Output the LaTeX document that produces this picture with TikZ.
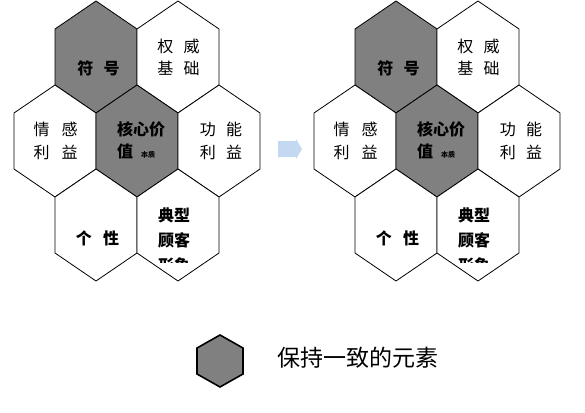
\documentclass[tikz,border=0pt]{standalone}
\usepackage{fontspec}
\newfontfamily\cjk{Noto Sans CJK SC}
\definecolor{hexgray}{RGB}{128,128,128}
\definecolor{arrowblue}{RGB}{196,216,242}
\tikzset{
  hexline/.style={draw=black,line width=0.8pt,line join=miter},
  lbl/.style={font=\cjk\fontsize{16}{16}\selectfont,inner sep=0pt,anchor=center},
  lblb/.style={font=\cjk\bfseries\fontsize{16}{16}\selectfont,inner sep=0pt,anchor=center},
}
\newcommand\hexagon[3]{%
  \filldraw[hexline,fill=#3] (#1,#2-56) -- ++(41,28) -- ++(0,56) -- ++(-41,28)
    -- ++(-41,-28) -- ++(0,-56) -- cycle;}
\newcommand\hexdiagram[2]{%
  \begin{scope}[xshift=#2]
    \hexagon{96}{57}{hexgray}
    \hexagon{178}{57}{white}
    \hexagon{55}{141}{white}
    \hexagon{137}{141}{hexgray}
    \hexagon{219}{141}{white}
    \hexagon{96}{225}{white}
    \hexagon{178}{225}{white}
    \node[lblb] (#1-fh) at (98.5,68) {符\hspace{0.65em}号};
    \node[lbl] (#1-qw1) at (178.5,46) {权\hspace{0.65em}威};
    \node[lbl] (#1-qw2) at (178.5,68) {基\hspace{0.65em}础};
    \node[lbl] (#1-qg1) at (55.5,129) {情\hspace{0.75em}感};
    \node[lbl] (#1-qg2) at (55.5,152) {利\hspace{0.75em}益};
    \node[lbl] (#1-gn1) at (221,129) {功\hspace{0.65em}能};
    \node[lbl] (#1-gn2) at (221,152) {利\hspace{0.65em}益};
    \node[lblb] (#1-hx1) at (141,129) {核心价};
    \node[lblb,anchor=west] (#1-hx2) at (117,151) {值};
    \node[font=\cjk\bfseries\fontsize{7}{7}\selectfont,inner sep=0pt,anchor=west] (#1-bz) at (141,155) {本质};
    \node[lblb] (#1-gx) at (97.5,238) {个\hspace{0.7em}性};
    \begin{scope}
      \clip (140,200) rectangle (215,262);
      \node[lblb] (#1-dx1) at (174,215) {典型};
      \node[lblb] (#1-dx2) at (174,240) {顾客};
      \node[lblb] (#1-dx3) at (174,265) {形象};
    \end{scope}
  \end{scope}}
\begin{document}
\begin{tikzpicture}[x=1pt,y=-1pt]
  \useasboundingbox (0,0) rectangle (585,412);
  \fill[white] (0,0) rectangle (585,412);
  \hexdiagram{L}{0pt}
  \hexdiagram{R}{300pt}
  \fill[arrowblue] (278,141) -- (296,141) -- (296,139) -- (302,149) -- (296,159)
    -- (296,157) -- (278,157) -- cycle;
  \filldraw[draw=black,line width=1.6pt,fill=hexgray] (220,335) -- ++(23,13) -- ++(0,26)
    -- ++(-23,13) -- ++(-23,-13) -- ++(0,-26) -- cycle;
  \node[font=\cjk\fontsize{23}{23}\selectfont,inner sep=0pt,anchor=west] (leg) at (277,358) {保持一致的元素};
\end{tikzpicture}
\end{document}
